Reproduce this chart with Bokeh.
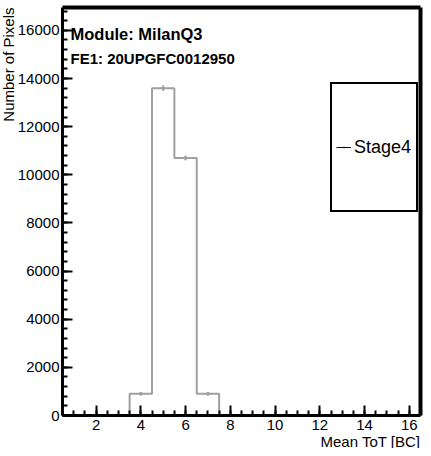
from bokeh.plotting import figure
from bokeh.models import (FixedTicker, Label, Legend, LegendItem, LinearAxis,
                          Range1d, Title)
from bokeh.embed import file_html
from bokeh.resources import INLINE

# ---- data ----
bin_low = [3.5, 4.5, 5.5, 6.5]
bin_high = [4.5, 5.5, 6.5, 7.5]
counts = [900, 13600, 10700, 900]
errors = [30, 117, 103, 30]
x_ticks = [2, 4, 6, 8, 10, 12, 14, 16]
y_ticks = [0, 2000, 4000, 6000, 8000, 10000, 12000, 14000, 16000]
title1 = "Module: MilanQ3"
title2 = "FE1: 20UPGFC0012950"
x_title = "Mean ToT [BC]"
y_title = "Number of Pixels"
legend_label = "Stage4"

X0, X1 = 0.5, 16.5
Y0, Y1 = 0, 16950
W, H = 423, 448
BL, BR, BT, BB = 62, 3, 7, 33
FONT = "Liberation Sans"
GRAY = "#a0a0a0"

p = figure(width=W, height=H, output_backend="svg", toolbar_location=None,
           x_range=Range1d(X0, X1), y_range=Range1d(Y0, Y1),
           min_border_left=BL, min_border_right=BR, min_border_top=BT,
           min_border_bottom=BB)
p.grid.visible = False
p.outline_line_color = None
p.background_fill_color = "white"
p.border_fill_color = "white"

xaxis = p.below[0]
yaxis = p.left[0]

# histogram outline (step) built from bin edges and counts
xs, ys = [bin_low[0]], [0]
for lo, hi, c in zip(bin_low, bin_high, counts):
    xs += [lo, hi]
    ys += [c, c]
xs.append(bin_high[-1]); ys.append(0)
p.line(xs, ys, line_color=GRAY, line_width=2)

centers = [(lo + hi) / 2 for lo, hi in zip(bin_low, bin_high)]
p.segment(x0=centers, x1=centers,
          y0=[c - e for c, e in zip(counts, errors)],
          y1=[c + e for c, e in zip(counts, errors)],
          line_color=GRAY, line_width=1.5)
p.scatter(centers, counts, size=3, color=GRAY)

# axes
for ax in (xaxis, yaxis):
    ax.axis_line_width = 3
    ax.axis_line_color = "black"
    ax.major_tick_in = 10
    ax.major_tick_out = 0
    ax.minor_tick_in = 5
    ax.minor_tick_out = 0
    ax.major_tick_line_width = 2
    ax.minor_tick_line_width = 2
    ax.major_tick_line_color = "black"
    ax.minor_tick_line_color = "black"
    ax.major_label_text_font = FONT
    ax.major_label_text_font_size = "15px"
    ax.major_label_text_color = "black"

minor_x = [0.5 * i for i in range(1, 34)]
xaxis.ticker = FixedTicker(ticks=x_ticks, minor_ticks=minor_x)
xaxis.major_label_standoff = 4
minor_y = [400 * i for i in range(0, 43)]
yaxis.ticker = FixedTicker(ticks=y_ticks, minor_ticks=minor_y)
yaxis.major_label_standoff = 3

# frame edges on top and right as bare axes (no ticks, no labels)
for side in ("above", "right"):
    a = LinearAxis(ticker=FixedTicker(ticks=[], minor_ticks=[]),
                   axis_line_width=4, axis_line_color="black",
                   major_tick_in=0, major_tick_out=0,
                   minor_tick_in=0, minor_tick_out=0,
                   major_label_standoff=0,
                   major_label_text_font_size="1px")
    p.add_layout(a, side)

# axis titles as side-panel titles (aligned to the far end, ROOT style)
p.add_layout(Title(text=y_title, align="right", text_font=FONT,
                   text_font_size="15px", text_font_style="normal",
                   text_color="black", standoff=-5, offset=0), "left")
p.add_layout(Title(text=x_title, align="right", text_font=FONT,
                   text_font_size="15px", text_font_style="normal",
                   text_color="black", standoff=-4, offset=0), "below")

# in-frame titles
FH = H - BT - BB
FW = W - BL - BR
def dx(px):
    return X0 + (px - BL) / FW * (X1 - X0)
def dy(py):
    return Y0 + (BT + FH - py) / FH * (Y1 - Y0)

p.add_layout(Label(x=dx(70), y=dy(33), text=title1, text_font=FONT,
                   text_font_size="16.5px", text_font_style="bold",
                   text_color="black",
                   text_baseline="alphabetic", text_align="left"))
p.add_layout(Label(x=dx(70), y=dy(57.5), text=title2, text_font=FONT,
                   text_font_size="15px", text_font_style="bold",
                   text_color="black",
                   text_baseline="alphabetic", text_align="left"))

# legend (dummy renderers with a single NaN point so that glyphs draw)
nan = float("nan")
r_l = p.line([nan], [nan], line_color="black", line_width=1)
r_m = p.scatter([nan], [nan], marker="dot", size=8, color="black")
leg = Legend(items=[LegendItem(label=legend_label, renderers=[r_l, r_m])],
             location=(330 - BL, 415 - 212), margin=0, padding=4,
             glyph_width=15, glyph_height=118, label_height=118,
             label_width=58, label_standoff=3,
             label_text_font=FONT, label_text_font_size="18px",
             label_text_color="black",
             border_line_color="black", border_line_alpha=1,
             border_line_width=2,
             background_fill_color="white", background_fill_alpha=1)
p.add_layout(leg)

open("out.html", "w").write(file_html(p, INLINE))
